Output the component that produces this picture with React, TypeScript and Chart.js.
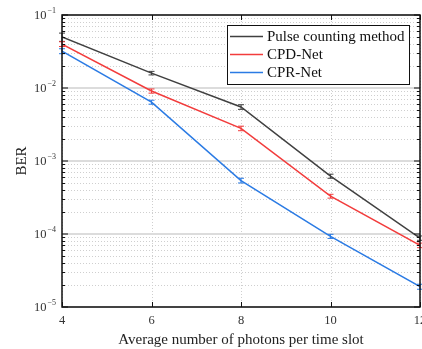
import React, { useEffect, useRef } from "react";
import { Chart, registerables } from "chart.js";

Chart.register(...registerables);

const xValues = [4, 6, 8, 10, 12];
const pulseBER = [0.05, 0.016, 0.0055, 0.00062, 0.000088];
const cpdBER = [0.04, 0.0091, 0.0028, 0.00033, 0.00007];
const cprBER = [0.032, 0.0064, 0.00054, 0.000093, 0.000019];
const pulseErr = [0.0065, 0.0009, 0.0004, 0.00004, 0.000006];
const cpdErr = [0.003, 0.0006, 0.0002, 0.00002, 0.000005];
const cprErr = [0.0025, 0.0004, 0.00004, 0.000006, 0.0000015];
const seriesNames = ["Pulse counting method", "CPD-Net", "CPR-Net"];
const seriesColors = ["#404040", "#f23c3c", "#2b7be4"];
const xTicks = [4, 6, 8, 10, 12];
const yDecades = [-5, -4, -3, -2, -1];

const SERIF = "'Liberation Serif', 'Times New Roman', serif";

const customPlugin = {
  id: "matlabStyle",
  beforeDatasetsDraw(chart: any) {
    const { ctx, chartArea: a, scales } = chart;
    const xs = scales.x, ys = scales.y;
    ctx.save();
    ctx.strokeStyle = "#cfcfcf";
    ctx.lineWidth = 1;
    ctx.setLineDash([1, 2]);
    for (let e = -5; e <= -2; e++) {
      for (let m = 2; m <= 9; m++) {
        const py = Math.round(ys.getPixelForValue(m * Math.pow(10, e))) + 0.5;
        ctx.beginPath();
        ctx.moveTo(a.left, py);
        ctx.lineTo(a.right, py);
        ctx.stroke();
      }
    }
    for (const t of xTicks) {
      const px = Math.round(xs.getPixelForValue(t)) + 0.5;
      ctx.beginPath();
      ctx.moveTo(px, a.top);
      ctx.lineTo(px, a.bottom);
      ctx.stroke();
    }
    ctx.setLineDash([]);
    ctx.strokeStyle = "#dcdcdc";
    ctx.lineWidth = 2;
    for (const e of yDecades) {
      const py = ys.getPixelForValue(Math.pow(10, e));
      ctx.beginPath();
      ctx.moveTo(a.left, py);
      ctx.lineTo(a.right, py);
      ctx.stroke();
    }
    ctx.restore();
  },
  afterDatasetsDraw(chart: any) {
    const { ctx, chartArea: a, scales } = chart;
    const xs = scales.x, ys = scales.y;
    ctx.save();
    chart.data.datasets.forEach((ds: any, i: number) => {
      const errs = [pulseErr, cpdErr, cprErr][i];
      ctx.strokeStyle = seriesColors[i];
      ctx.lineWidth = 1;
      ds.data.forEach((p: any, j: number) => {
        const px = xs.getPixelForValue(p.x);
        const top = ys.getPixelForValue(p.y + errs[j]);
        const bot = ys.getPixelForValue(p.y - errs[j]);
        ctx.beginPath();
        ctx.moveTo(px, top);
        ctx.lineTo(px, bot);
        ctx.moveTo(px - 3, top);
        ctx.lineTo(px + 3, top);
        ctx.moveTo(px - 3, bot);
        ctx.lineTo(px + 3, bot);
        ctx.stroke();
      });
    });
    ctx.strokeStyle = "#111";
    ctx.lineWidth = 1.5;
    ctx.strokeRect(a.left, a.top, a.right - a.left, a.bottom - a.top);
    ctx.lineWidth = 1;
    ctx.beginPath();
    for (const e of yDecades) {
      const py = ys.getPixelForValue(Math.pow(10, e));
      ctx.moveTo(a.left, py); ctx.lineTo(a.left + 6, py);
      ctx.moveTo(a.right, py); ctx.lineTo(a.right - 6, py);
      if (e < -1) {
        for (let m = 2; m <= 9; m++) {
          const pm = Math.round(ys.getPixelForValue(m * Math.pow(10, e))) + 0.5;
          ctx.moveTo(a.left, pm); ctx.lineTo(a.left + 3, pm);
          ctx.moveTo(a.right, pm); ctx.lineTo(a.right - 3, pm);
        }
      }
    }
    for (const t of xTicks) {
      const px = Math.round(xs.getPixelForValue(t)) + 0.5;
      ctx.moveTo(px, a.bottom); ctx.lineTo(px, a.bottom - 5);
      ctx.moveTo(px, a.top); ctx.lineTo(px, a.top + 5);
    }
    ctx.stroke();
    ctx.fillStyle = "#333";
    ctx.textBaseline = "middle";
    for (const e of yDecades) {
      const py = ys.getPixelForValue(Math.pow(10, e));
      const expTxt = "\u2212" + String(-e);
      ctx.font = `12.5px ${SERIF}`;
      const wBase = ctx.measureText("10").width;
      ctx.font = `8px ${SERIF}`;
      const wExp = ctx.measureText(expTxt).width;
      const right = 56;
      const startX = right - wExp - wBase - 1;
      ctx.font = `12.5px ${SERIF}`;
      ctx.textAlign = "left";
      ctx.fillText("10", startX, py + 1);
      ctx.font = `8px ${SERIF}`;
      ctx.fillText(expTxt, startX + wBase + 1, py - 4);
    }
    ctx.save();
    ctx.translate(22, (a.top + a.bottom) / 2);
    ctx.rotate(-Math.PI / 2);
    ctx.font = `15px ${SERIF}`;
    ctx.textAlign = "center";
    ctx.textBaseline = "middle";
    ctx.fillStyle = "#222";
    ctx.fillText("BER", 0, 0);
    ctx.restore();
    const lx = 227.5, ly = 25.5, lw = 182, lh = 59;
    ctx.fillStyle = "#fff";
    ctx.fillRect(lx, ly, lw, lh);
    ctx.strokeStyle = "#111";
    ctx.lineWidth = 1;
    ctx.strokeRect(lx, ly, lw, lh);
    const rows = [36.5, 54.5, 72.5];
    seriesNames.forEach((name, i) => {
      ctx.strokeStyle = seriesColors[i];
      ctx.lineWidth = 1.5;
      ctx.beginPath();
      ctx.moveTo(230, rows[i]);
      ctx.lineTo(263, rows[i]);
      ctx.stroke();
      ctx.fillStyle = "#111";
      ctx.font = `15px ${SERIF}`;
      ctx.textAlign = "left";
      ctx.textBaseline = "middle";
      ctx.fillText(name, 267, rows[i] + 1);
    });
    ctx.restore();
  },
};

export default function App() {
  const ref = useRef<HTMLCanvasElement | null>(null);
  useEffect(() => {
    document.body.style.margin = "0";
    const mk = (vals: number[]) => xValues.map((x, i) => ({ x, y: vals[i] }));
    const chart = new Chart(ref.current as HTMLCanvasElement, {
      type: "line",
      data: {
        datasets: [pulseBER, cpdBER, cprBER].map((vals, i) => ({
          label: seriesNames[i],
          data: mk(vals),
          borderColor: seriesColors[i],
          backgroundColor: seriesColors[i],
          borderWidth: 1.5,
          pointRadius: 0,
          tension: 0,
        })),
      },
      options: {
        animation: false,
        responsive: true,
        maintainAspectRatio: false,
        layout: { padding: { top: 15, right: 2, left: 0, bottom: 0 } },
        plugins: { legend: { display: false }, tooltip: { enabled: false } },
        scales: {
          x: {
            type: "linear",
            min: 4,
            max: 12,
            grid: { display: false, drawTicks: false },
            border: { display: false },
            ticks: {
              stepSize: 2,
              padding: 6,
              color: "#333",
              font: { family: SERIF, size: 12.5 },
              maxRotation: 0,
            },
            title: {
              display: true,
              text: "Average number of photons per time slot",
              color: "#222",
              font: { family: SERIF, size: 15 },
              padding: { top: 0, bottom: 0 },
            },
            afterFit: (s: any) => {
              s.height = 42;
              s.paddingLeft = 0;
              s.paddingRight = 0;
            },
          },
          y: {
            type: "logarithmic",
            min: 1e-5,
            max: 1e-1,
            grid: { display: false },
            border: { display: false },
            ticks: { display: false },
            afterFit: (s: any) => {
              s.width = 62;
            },
          },
        },
      },
      plugins: [customPlugin],
    } as any);
    return () => chart.destroy();
  }, []);
  return (
    <div style={{ width: 422, height: 349, position: "relative" }}>
      <canvas ref={ref} />
    </div>
  );
}
